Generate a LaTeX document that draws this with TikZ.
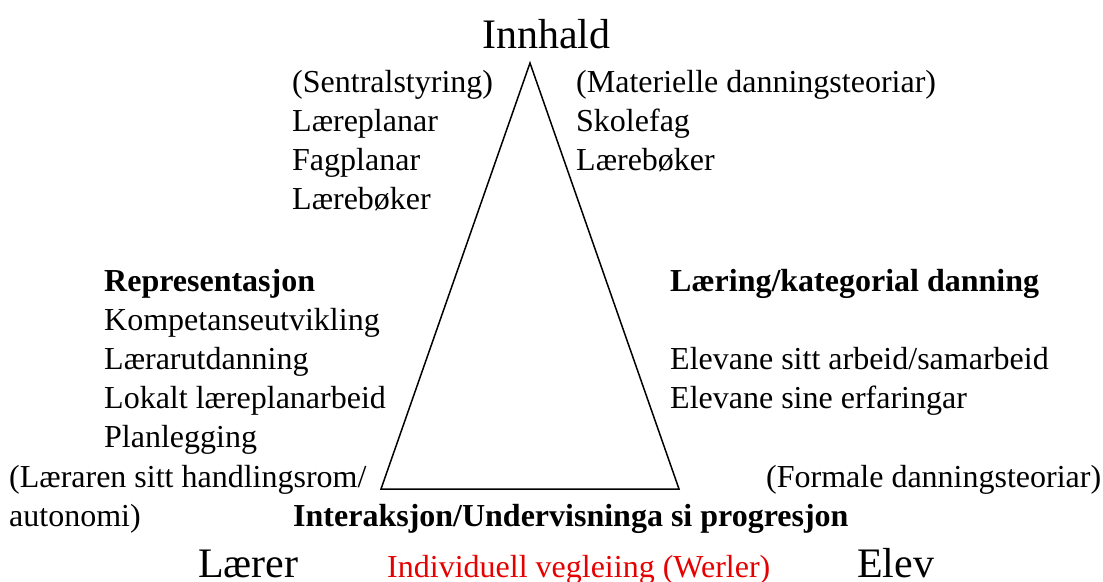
\documentclass[tikz,border=0pt]{standalone}
\usepackage{fontspec}
\setmainfont{Liberation Serif}
\definecolor{vred}{RGB}{230,0,0}
\tikzset{
  body/.style={font=\fontsize{32}{39}\selectfont, anchor=base west, inner sep=0pt},
  bodyb/.style={font=\fontsize{32}{39}\selectfont\bfseries, anchor=base west, inner sep=0pt},
  big/.style={font=\fontsize{42}{50}\selectfont, anchor=base west, inner sep=0pt},
  edge/.style={line width=1.5pt, line join=miter}
}
\begin{document}
\begin{tikzpicture}[x=1pt,y=-1pt]
\useasboundingbox[fill=white] (0,0) rectangle (1103,581);
% triangle
\coordinate (apex) at (530,63);
\coordinate (bl) at (381,489);
\coordinate (br) at (679,489);
\draw[edge] (apex) -- (bl) -- (br) -- cycle;
% top
\node[big] (innhald) at (482,48) {Innhald};
% top left
\node[body] (sentral) at (292,92) {(Sentralstyring)};
\node[body] (lplan) at (292,131) {Læreplanar};
\node[body] (fplan) at (292,170) {Fagplanar};
\node[body] (lbok1) at (292,209) {Lærebøker};
% top right
\node[body] (materielle) at (576,92) {(Materielle danningsteoriar)};
\node[body] (skolefag) at (576,131) {Skolefag};
\node[body] (lbok2) at (576,170) {Lærebøker};
% middle left
\node[bodyb] (repr) at (104,291) {Representasjon};
\node[body] (kompetanse) at (104,330) {Kompetanseutvikling};
\node[body] (lutd) at (104,369) {Lærarutdanning};
\node[body] (lokalt) at (104,408) {Lokalt læreplanarbeid};
\node[body] (planl) at (104,447) {Planlegging};
\node[body] (laeraren) at (9,487) {(Læraren sitt handlingsrom/};
\node[body] (autonomi) at (9,526) {autonomi)};
% middle right
\node[bodyb] (laering) at (670,291) {Læring/kategorial danning};
\node[body] (arbeid) at (670,369) {Elevane sitt arbeid/samarbeid};
\node[body] (erfaring) at (670,408) {Elevane sine erfaringar};
\node[body] (formale) at (766,487) {(Formale danningsteoriar)};
% bottom
\node[bodyb] (interaksjon) at (293,526) {Interaksjon/Undervisninga si progresjon};
\node[big] (laerer) at (198,577) {Lærer};
\node[body, text=vred] (indiv) at (387,577) {Individuell vegleiing (Werler)};
\node[big] (elev) at (857,577) {Elev};
\end{tikzpicture}
\end{document}
